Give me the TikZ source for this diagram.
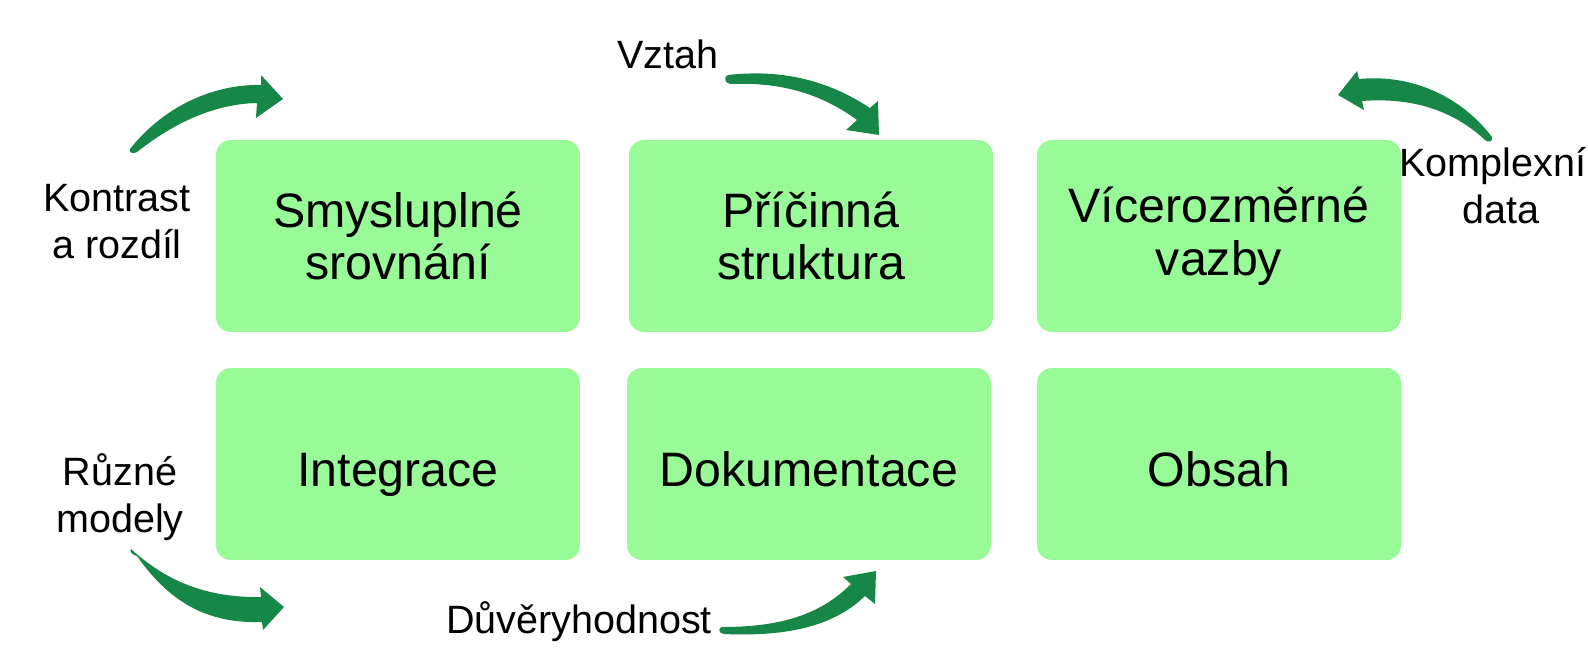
\documentclass[tikz,border=0pt]{standalone}
\usepackage{fontspec}
\setmainfont{Liberation Sans}
\definecolor{boxgreen}{RGB}{152,251,152}
\definecolor{arrowgreen}{RGB}{22,135,70}
\tikzset{
  box/.style={fill=boxgreen, rounded corners=0.3cm, minimum width=7.28cm, minimum height=3.84cm,
    align=center, font=\fontsize{27.5}{30}\selectfont, inner sep=0pt},
  onebox/.style={box, text height=26pt, text depth=0pt},
  lbl/.style={align=center, font=\fontsize{22.5}{26.8}\selectfont, inner sep=0pt},
  bigarrow/.style={fill=arrowgreen, draw=none}
}
\begin{document}
\begin{tikzpicture}[x=0.02cm,y=-0.02cm]
\useasboundingbox[fill=white] (0,0) rectangle (1588,672);

% boxes
\node[box] (b1) at (398,236) {Smysluplné\\srovnání};
\node[box] (b2) at (811,236) {Příčinná\\struktura};
\node[box] (b3) at (1219,236) {Vícerozměrné\\vazby};
\node[onebox] (b4) at (398,464) {Integrace};
\node[onebox] (b5) at (809,464) {Dokumentace};
\node[onebox] (b6) at (1219,464) {Obsah};

% labels
\node[lbl] (l1) at (117,222) {Kontrast\\a rozdíl};
\node[lbl, anchor=base] (l2) at (668,69) {Vztah};
\node[lbl, anchor=base west] (l3a) at (1399,177) {Komplexní};
\node[lbl, anchor=base] (l3b) at (1501,223) {data};
\node[lbl] (l4) at (120,497) {Různé\\modely};
\node[lbl, anchor=base] (l5) at (579,633) {Důvěryhodnost};

% arrows
% top-left
\fill[bigarrow] (130,149) .. controls (165,105) and (215,84) .. (261,85) -- (261,75) -- (283,99)
  -- (256,118) -- (257,103) .. controls (215,104) and (175,122) .. (137,152)
  .. controls (134,154) and (128,153) .. (130,149) -- cycle;
% Vztah
\fill[bigarrow] (728,75) .. controls (790,68) and (835,85) .. (870,108) -- (878,101) -- (879,135)
  -- (846,130) -- (857,120) .. controls (820,93) and (780,82) .. (730,84)
  .. controls (724,83) and (724,76) .. (728,75) -- cycle;
% Komplexni
\fill[bigarrow] (1359,79) .. controls (1410,74) and (1460,95) .. (1492,137)
  .. controls (1493,142) and (1488,143) .. (1485,140) .. controls (1455,112) and (1415,97) .. (1362,101)
  -- (1364,110) -- (1338,95) -- (1357,71) -- cycle;
% Ruzne modely
\fill[bigarrow] (131,549) .. controls (165,580) and (205,598) .. (261,597) -- (260,587) -- (284,607)
  -- (263,630) -- (262,622) .. controls (205,624) and (168,600) .. (137,556)
  .. controls (133,555) and (129,552) .. (131,549) -- cycle;
% Duveryhodnost
\fill[bigarrow] (722,627) .. controls (780,627) and (820,615) .. (851,584) -- (843,577) -- (876,571)
  -- (875,604) -- (865,596) .. controls (835,625) and (790,637) .. (724,634)
  .. controls (718,633) and (718,628) .. (722,627) -- cycle;
\end{tikzpicture}
\end{document}
